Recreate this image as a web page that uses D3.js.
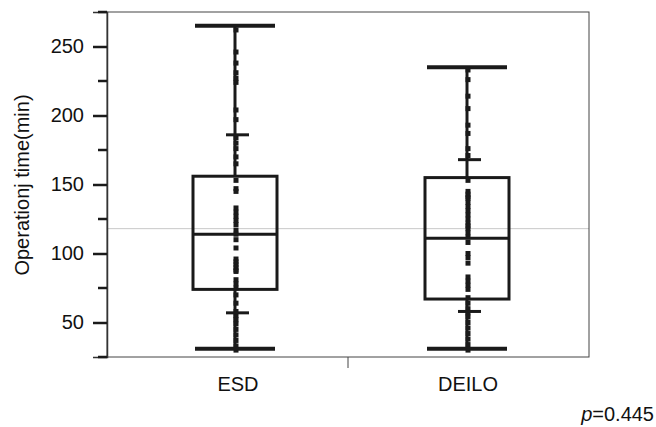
<!DOCTYPE html>
<html>
<head>
<meta charset="utf-8">
<script src="https://cdn.jsdelivr.net/npm/d3@7"></script>
<style>
  body { margin: 0; background: #fff; }
  text { font-family: "Liberation Sans", Arial, sans-serif; }
</style>
</head>
<body>
<div id="chart"></div>
<script>
// data
const groups = ["ESD", "DEILO"]
// [bottom cap, lower short cap, q1, median, q3, upper short cap, top cap]
const esd_stats = [31, 57, 74, 114, 156, 186, 265]
const deilo_stats = [31, 58, 67, 111, 155, 168, 235]
const esd_points = [262, 246, 238, 231, 227, 224, 204, 197, 184, 180, 176, 170, 165, 147,
  153, 145, 133, 130, 127, 124, 121, 117, 114, 110, 104, 96, 94, 92, 90, 88, 87,
  81, 78, 75, 70, 64, 58, 55, 52, 49, 45, 41, 37, 33, 30]
const deilo_points = [233, 226, 214, 205, 193, 187, 176, 171, 153, 145, 141, 137, 143, 140,
  134, 131, 128, 125, 122, 120, 118, 115, 112, 108, 100, 97, 93, 83, 80, 77, 74,
  68, 64, 60, 57, 54, 50, 46, 42, 38, 34, 30]
const y_ticks = [50, 100, 150, 200, 250]
const y_minor = [25, 75, 125, 175, 225, 275]
const grand_mean = 118
const p_text = "0.445"

const width = 656, height = 427
const margin = {left: 107, right: 67, top: 12, bottom: 70}
const innerW = width - margin.left - margin.right
const innerH = height - margin.top - margin.bottom

const svg = d3.select("#chart").append("svg")
  .attr("width", width)
  .attr("height", height)

const y = d3.scaleLinear().domain([25, 275]).range([margin.top + innerH, margin.top])
const x = d3.scalePoint().domain(groups).range([235, 467])

const dark = "#1a1a1a"

// grand mean line
svg.append("line")
  .attr("x1", margin.left).attr("x2", margin.left + innerW)
  .attr("y1", y(grand_mean)).attr("y2", y(grand_mean))
  .attr("stroke", "#c8c8c8").attr("stroke-width", 1)

// frame
svg.append("rect")
  .attr("x", margin.left).attr("y", margin.top)
  .attr("width", innerW).attr("height", innerH)
  .attr("fill", "none").attr("stroke", "#444").attr("stroke-width", 1)

// y axis
svg.append("g")
  .attr("transform", `translate(${margin.left},0)`)
  .call(d3.axisLeft(y).tickValues(y_ticks).tickSize(14).tickPadding(9))
  .call(g => g.select(".domain").attr("stroke", "#333").attr("stroke-width", 1.5))
  .call(g => g.selectAll(".tick line").attr("stroke", dark).attr("stroke-width", 2.5))
  .call(g => g.selectAll(".tick text").attr("font-size", 20).attr("fill", "#111")
    .attr("font-family", "'Liberation Sans', Arial, sans-serif"))

svg.append("g")
  .selectAll("line")
  .data(y_minor)
  .join("line")
  .attr("x1", margin.left - 9).attr("x2", margin.left)
  .attr("y1", d => y(d)).attr("y2", d => y(d))
  .attr("stroke", dark).attr("stroke-width", 2.5)

// x axis separator tick and labels
svg.append("line")
  .attr("x1", margin.left + innerW / 2).attr("x2", margin.left + innerW / 2)
  .attr("y1", margin.top + innerH).attr("y2", margin.top + innerH + 11)
  .attr("stroke", "#444").attr("stroke-width", 1)

svg.append("g")
  .selectAll("text")
  .data(groups)
  .join("text")
  .attr("x", (d, i) => x(d) + (i == 0 ? 3 : 1))
  .attr("y", margin.top + innerH + 34)
  .attr("text-anchor", "middle")
  .attr("font-size", 20)
  .attr("fill", "#111")
  .text(d => d)

// y label
svg.append("text")
  .attr("transform", `translate(29,185) rotate(-90)`)
  .attr("text-anchor", "middle")
  .attr("font-size", 20)
  .attr("fill", "#111")
  .text("Operationj time(min)")

// p value
const p = svg.append("text")
  .attr("x", 654).attr("y", 421)
  .attr("text-anchor", "end")
  .attr("font-size", 20)
  .attr("font-family", "'Open Sans', sans-serif")
  .attr("fill", "#111")
p.append("tspan").attr("font-style", "italic").text("p")
p.append("tspan").text("=" + p_text)

const draw_group = (name, s, pts) => {
  const cx = x(name)
  const g = svg.append("g")
  const boxW = 84, capW = 80

  // whiskers
  g.append("line")
    .attr("x1", cx).attr("x2", cx)
    .attr("y1", y(s[0])).attr("y2", y(s[2]))
    .attr("stroke", dark).attr("stroke-width", 3)
  g.append("line")
    .attr("x1", cx).attr("x2", cx)
    .attr("y1", y(s[4])).attr("y2", y(s[6]))
    .attr("stroke", dark).attr("stroke-width", 3)

  // points
  g.selectAll("rect.pt")
    .data(pts)
    .join("rect")
    .attr("class", "pt")
    .attr("x", cx - 1.5).attr("y", d => y(d) - 2.5)
    .attr("width", 5).attr("height", 5)
    .attr("fill", dark)

  // box
  g.append("rect")
    .attr("x", cx - boxW / 2).attr("y", y(s[4]))
    .attr("width", boxW).attr("height", y(s[2]) - y(s[4]))
    .attr("fill", "none").attr("stroke", dark).attr("stroke-width", 3)
  g.append("line")
    .attr("x1", cx - boxW / 2).attr("x2", cx + boxW / 2)
    .attr("y1", y(s[3])).attr("y2", y(s[3]))
    .attr("stroke", dark).attr("stroke-width", 3)

  // caps
  g.selectAll("line.cap")
    .data([s[0], s[6]])
    .join("line")
    .attr("class", "cap")
    .attr("x1", cx - capW / 2).attr("x2", cx + capW / 2)
    .attr("y1", d => y(d)).attr("y2", d => y(d))
    .attr("stroke", dark).attr("stroke-width", 4)
  g.selectAll("line.short")
    .data([s[1], s[5]])
    .join("line")
    .attr("class", "short")
    .attr("x1", cx - 9).attr("x2", cx + 14)
    .attr("y1", d => y(d)).attr("y2", d => y(d))
    .attr("stroke", dark).attr("stroke-width", 3)
}

draw_group("ESD", esd_stats, esd_points)
draw_group("DEILO", deilo_stats, deilo_points)
</script>
</body>
</html>
